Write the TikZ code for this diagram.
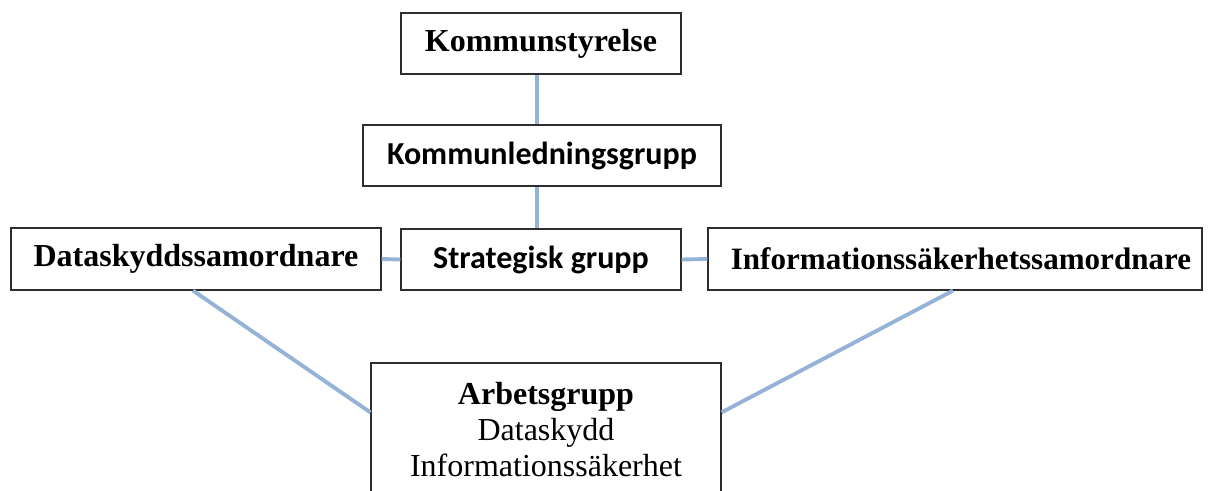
\documentclass[tikz,border=0pt]{standalone}
\usepackage{fontspec}
\setmainfont{Liberation Serif}
\newfontfamily\calfont{Carlito}
\usetikzlibrary{calc}
\definecolor{linkblue}{RGB}{149,179,215}
\definecolor{boxline}{RGB}{45,45,45}
\tikzset{
  orgbox/.style={draw=boxline, line width=0.9pt, fill=white, inner sep=0pt, align=center,
    font=\fontsize{24pt}{27pt}\selectfont},
  serifbold/.style={font=\fontsize{24pt}{27pt}\selectfont\bfseries},
  serifboldsmall/.style={font=\fontsize{23.3pt}{27pt}\selectfont\bfseries},
  calbold/.style={font=\fontsize{24pt}{28pt}\selectfont\calfont\bfseries},
  link/.style={draw=linkblue, line width=2.9pt}
}
\begin{document}
\begin{tikzpicture}[x=0.75pt,y=-0.75pt]
\useasboundingbox (0,0) rectangle (1221,490);
\clip (0,0) rectangle (1221,490);
\fill[white] (0,0) rectangle (1221,490);
\coordinate (xline) at (537,0);
\node[orgbox, serifbold, minimum width=280*0.75pt, minimum height=61*0.75pt] (A) at (541,43.5) {Kommunstyrelse};
\node[orgbox, calbold, minimum width=358*0.75pt, minimum height=61*0.75pt] (B) at (542,155.5) {Kommunledningsgrupp};
\node[orgbox, calbold, minimum width=280*0.75pt, minimum height=61*0.75pt] (C) at (541,259.5) {Strategisk grupp};
\node[orgbox, serifbold, minimum width=370*0.75pt, minimum height=62*0.75pt] (D) at (196,259) {Dataskyddssamordnare};
\node[orgbox, serifboldsmall, minimum width=494*0.75pt, minimum height=62*0.75pt] (E) at (955,259) {\hspace*{10\pgflinewidth}Informationssäkerhetssamordnare};
\node[orgbox, minimum width=350*0.75pt, minimum height=134*0.75pt] (F) at (546,430) {\textbf{Arbetsgrupp}\\Dataskydd\\Informationssäkerhet};
\draw[link] (A.south -| xline) -- (B.north -| xline);
\draw[link] (B.south -| xline) -- (C.north -| xline);
\draw[link] (D.east) -- (C.west);
\draw[link] (C.east) -- (E.west);
\draw[link] ($(D.south)+(-3,0)$) -- ($(F.north west)+(0,50)$);
\draw[link] ($(E.south)+(-2,0)$) -- ($(F.north east)+(0,50)$);
\end{tikzpicture}
\end{document}
